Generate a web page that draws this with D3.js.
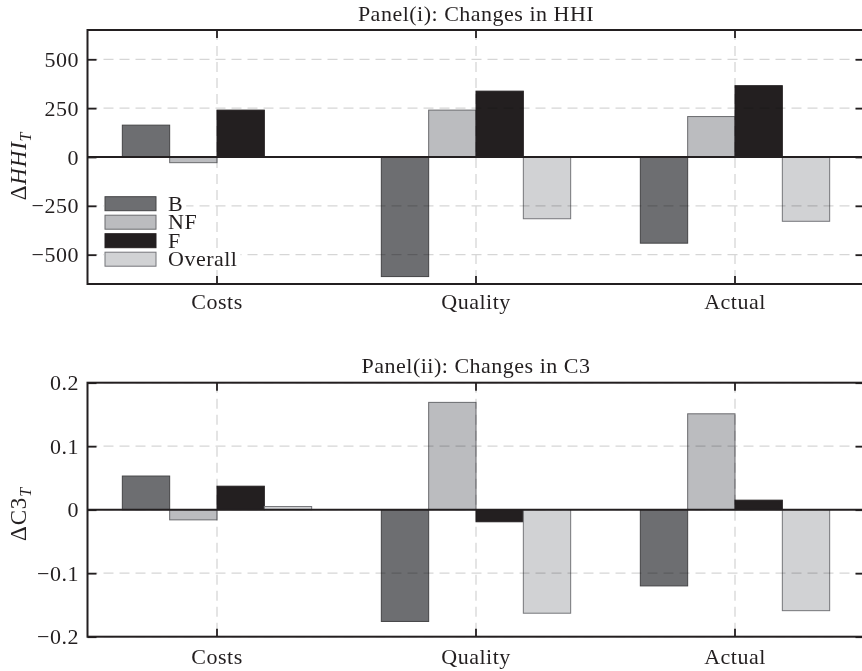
<!DOCTYPE html>
<html>
<head>
<meta charset="utf-8">
<script src="https://cdn.jsdelivr.net/npm/d3@7"></script>
<style>
  body { margin: 0; background: #fff; }
  svg { display: block; font-family: "Liberation Serif", "DejaVu Serif", serif; }
  text { fill: #231f20; }
</style>
</head>
<body>
<svg id="chart" width="862" height="671"></svg>
<script>
// categories and series
var categories = ['Costs', 'Quality', 'Actual'];
var seriesNames = ['B', 'NF', 'F', 'Overall'];

// Panel (i): changes in HHI
var hhiB = [163, -612, -441];
var hhiNF = [-29, 240, 207];
var hhiF = [240, 337, 365];
var hhiOverall = [0, -316, -329];
var hhiTicks = [-500, -250, 0, 250, 500];

// Panel (ii): changes in C3
var c3B = [0.053, -0.176, -0.120];
var c3NF = [-0.016, 0.169, 0.151];
var c3F = [0.037, -0.019, 0.015];
var c3Overall = [0.005, -0.163, -0.159];
var c3Ticks = [-0.2, -0.1, 0, 0.1, 0.2];

var fills = {B: '#6d6e71', NF: '#bbbcbf', F: '#231f20', Overall: '#d1d2d4'};
var strokes = {B: '#444446', NF: '#6a6b6e', F: '#231f20', Overall: '#75767a'};

var svg = d3.select('#chart');
var left = 87.5, right = 864.5;
var fontSize = '22px', spacing = '0.5px';

var x = d3.scaleBand().domain(categories).range([left, right]).padding(0);
var groupW = x.bandwidth() * 0.731;
var xs = d3.scaleBand().domain(seriesNames).range([0, groupW]).padding(0);

var minus = function(s) { return s.replace('-', '\u2212'); };

// draws one panel
var drawPanel = function(opt) {
  var g = svg.append('g');
  var y = d3.scaleLinear().domain(opt.domain).range([opt.bottom, opt.top]);

  var rows = [];
  seriesNames.forEach(function(s, si) {
    opt.values[si].forEach(function(v, ci) {
      rows.push({series: s, cat: categories[ci], value: v});
    });
  });

  // bars
  g.selectAll('rect.bar').data(rows).enter()
    .append('rect')
    .attr('class', 'bar')
    .attr('x', function(d) { return x(d.cat) + x.bandwidth() / 2 - groupW / 2 + xs(d.series); })
    .attr('width', xs.bandwidth())
    .attr('y', function(d) { return y(Math.max(0, d.value)); })
    .attr('height', function(d) { return Math.abs(y(d.value) - y(0)); })
    .attr('fill', function(d) { return fills[d.series]; })
    .attr('stroke', function(d) { return strokes[d.series]; })
    .attr('stroke-width', 1);

  // dashed grid, on top of the bars
  var grid = g.append('g').style('mix-blend-mode', 'multiply')
    .attr('stroke', '#d6d6d6').attr('stroke-width', 1.3).attr('stroke-dasharray', '10,6');
  grid.selectAll('line.h').data(opt.ticks).enter().append('line')
    .attr('x1', left).attr('x2', right)
    .attr('y1', function(d) { return y(d); }).attr('y2', function(d) { return y(d); });
  grid.selectAll('line.v').data(categories).enter().append('line')
    .attr('y1', opt.top).attr('y2', opt.bottom)
    .attr('x1', function(d) { return x(d) + x.bandwidth() / 2; })
    .attr('x2', function(d) { return x(d) + x.bandwidth() / 2; });

  // zero line
  g.append('line')
    .attr('x1', left).attr('x2', right).attr('y1', y(0)).attr('y2', y(0))
    .attr('stroke', '#231f20').attr('stroke-width', 2);

  // axes with inward ticks
  var yl = g.append('g').attr('transform', 'translate(' + left + ',0)')
    .call(d3.axisLeft(y).tickValues(opt.ticks).tickSizeInner(-9).tickSizeOuter(0).tickPadding(8.5)
      .tickFormat(function(d) { return minus(opt.fmt(d)); }));
  var yr = g.append('g').attr('transform', 'translate(' + right + ',0)')
    .call(d3.axisRight(y).tickValues(opt.ticks).tickSizeInner(-9).tickSizeOuter(0).tickFormat(''));
  var xt = g.append('g').attr('transform', 'translate(0,' + opt.top + ')')
    .call(d3.axisTop(x).tickSizeInner(-8).tickSizeOuter(0).tickFormat(''));
  var xb = g.append('g').attr('transform', 'translate(0,' + opt.bottom + ')')
    .call(d3.axisBottom(x).tickSizeInner(-8).tickSizeOuter(0).tickPadding(opt.xPad));

  [yl, yr, xt, xb].forEach(function(a) {
    a.select('.domain').remove();
    a.selectAll('line').attr('stroke', '#231f20').attr('stroke-width', 1.8);
    a.selectAll('text')
      .attr('fill', '#231f20')
      .style('font-family', '"Liberation Serif", serif')
      .style('font-size', fontSize)
      .style('letter-spacing', spacing);
  });

  // frame
  g.append('rect')
    .attr('x', left).attr('y', opt.top)
    .attr('width', right - left).attr('height', opt.bottom - opt.top)
    .attr('fill', 'none').attr('stroke', '#231f20').attr('stroke-width', 2);

  // title
  g.append('text')
    .attr('x', (left + right) / 2).attr('y', opt.top - 9.5)
    .attr('text-anchor', 'middle')
    .style('font-size', fontSize).style('letter-spacing', spacing)
    .text(opt.title);

  // y label
  var lab = g.append('text')
    .attr('transform', 'translate(26,' + opt.labelY + ') rotate(-90)')
    .attr('text-anchor', 'middle')
    .style('font-size', '23px').style('letter-spacing', '0.8px');
  lab.append('tspan').text('\u0394');
  lab.append('tspan').style('font-style', opt.italicLabel ? 'italic' : 'normal').text(opt.label);
  lab.append('tspan').style('font-style', 'italic').style('font-size', '16px').attr('dy', 5).text('T');

  return g;
};

drawPanel({
  values: [hhiB, hhiNF, hhiF, hhiOverall],
  domain: [-650, 650], top: 30, bottom: 284,
  ticks: hhiTicks, fmt: d3.format('d'),
  title: 'Panel(i): Changes in HHI', label: 'HHI', italicLabel: true,
  labelY: 166, xPad: 9
});

drawPanel({
  values: [c3B, c3NF, c3F, c3Overall],
  domain: [-0.2, 0.2], top: 382.7, bottom: 636.7,
  ticks: c3Ticks, fmt: function(d) { return d === 0 ? '0' : d3.format('.1f')(d); },
  title: 'Panel(ii): Changes in C3', label: 'C3', italicLabel: false,
  labelY: 514, xPad: 12
});

// legend in panel (i)
var legend = svg.append('g');
seriesNames.forEach(function(s, i) {
  var row = legend.append('g').attr('transform', 'translate(105,' + (196.7 + i * 18.5) + ')');
  var bg = row.append('rect').attr('fill', '#fff');
  row.append('rect')
    .attr('width', 51).attr('height', 14)
    .attr('fill', fills[s]).attr('stroke', strokes[s]).attr('stroke-width', 1);
  var t = row.append('text')
    .attr('x', 63).attr('y', 14)
    .style('font-size', fontSize).style('letter-spacing', spacing)
    .text(s);
  var w = t.node().getComputedTextLength();
  bg.attr('x', -1).attr('y', -2).attr('width', 63 + w + 4).attr('height', 18.5);
});
</script>
</body>
</html>
